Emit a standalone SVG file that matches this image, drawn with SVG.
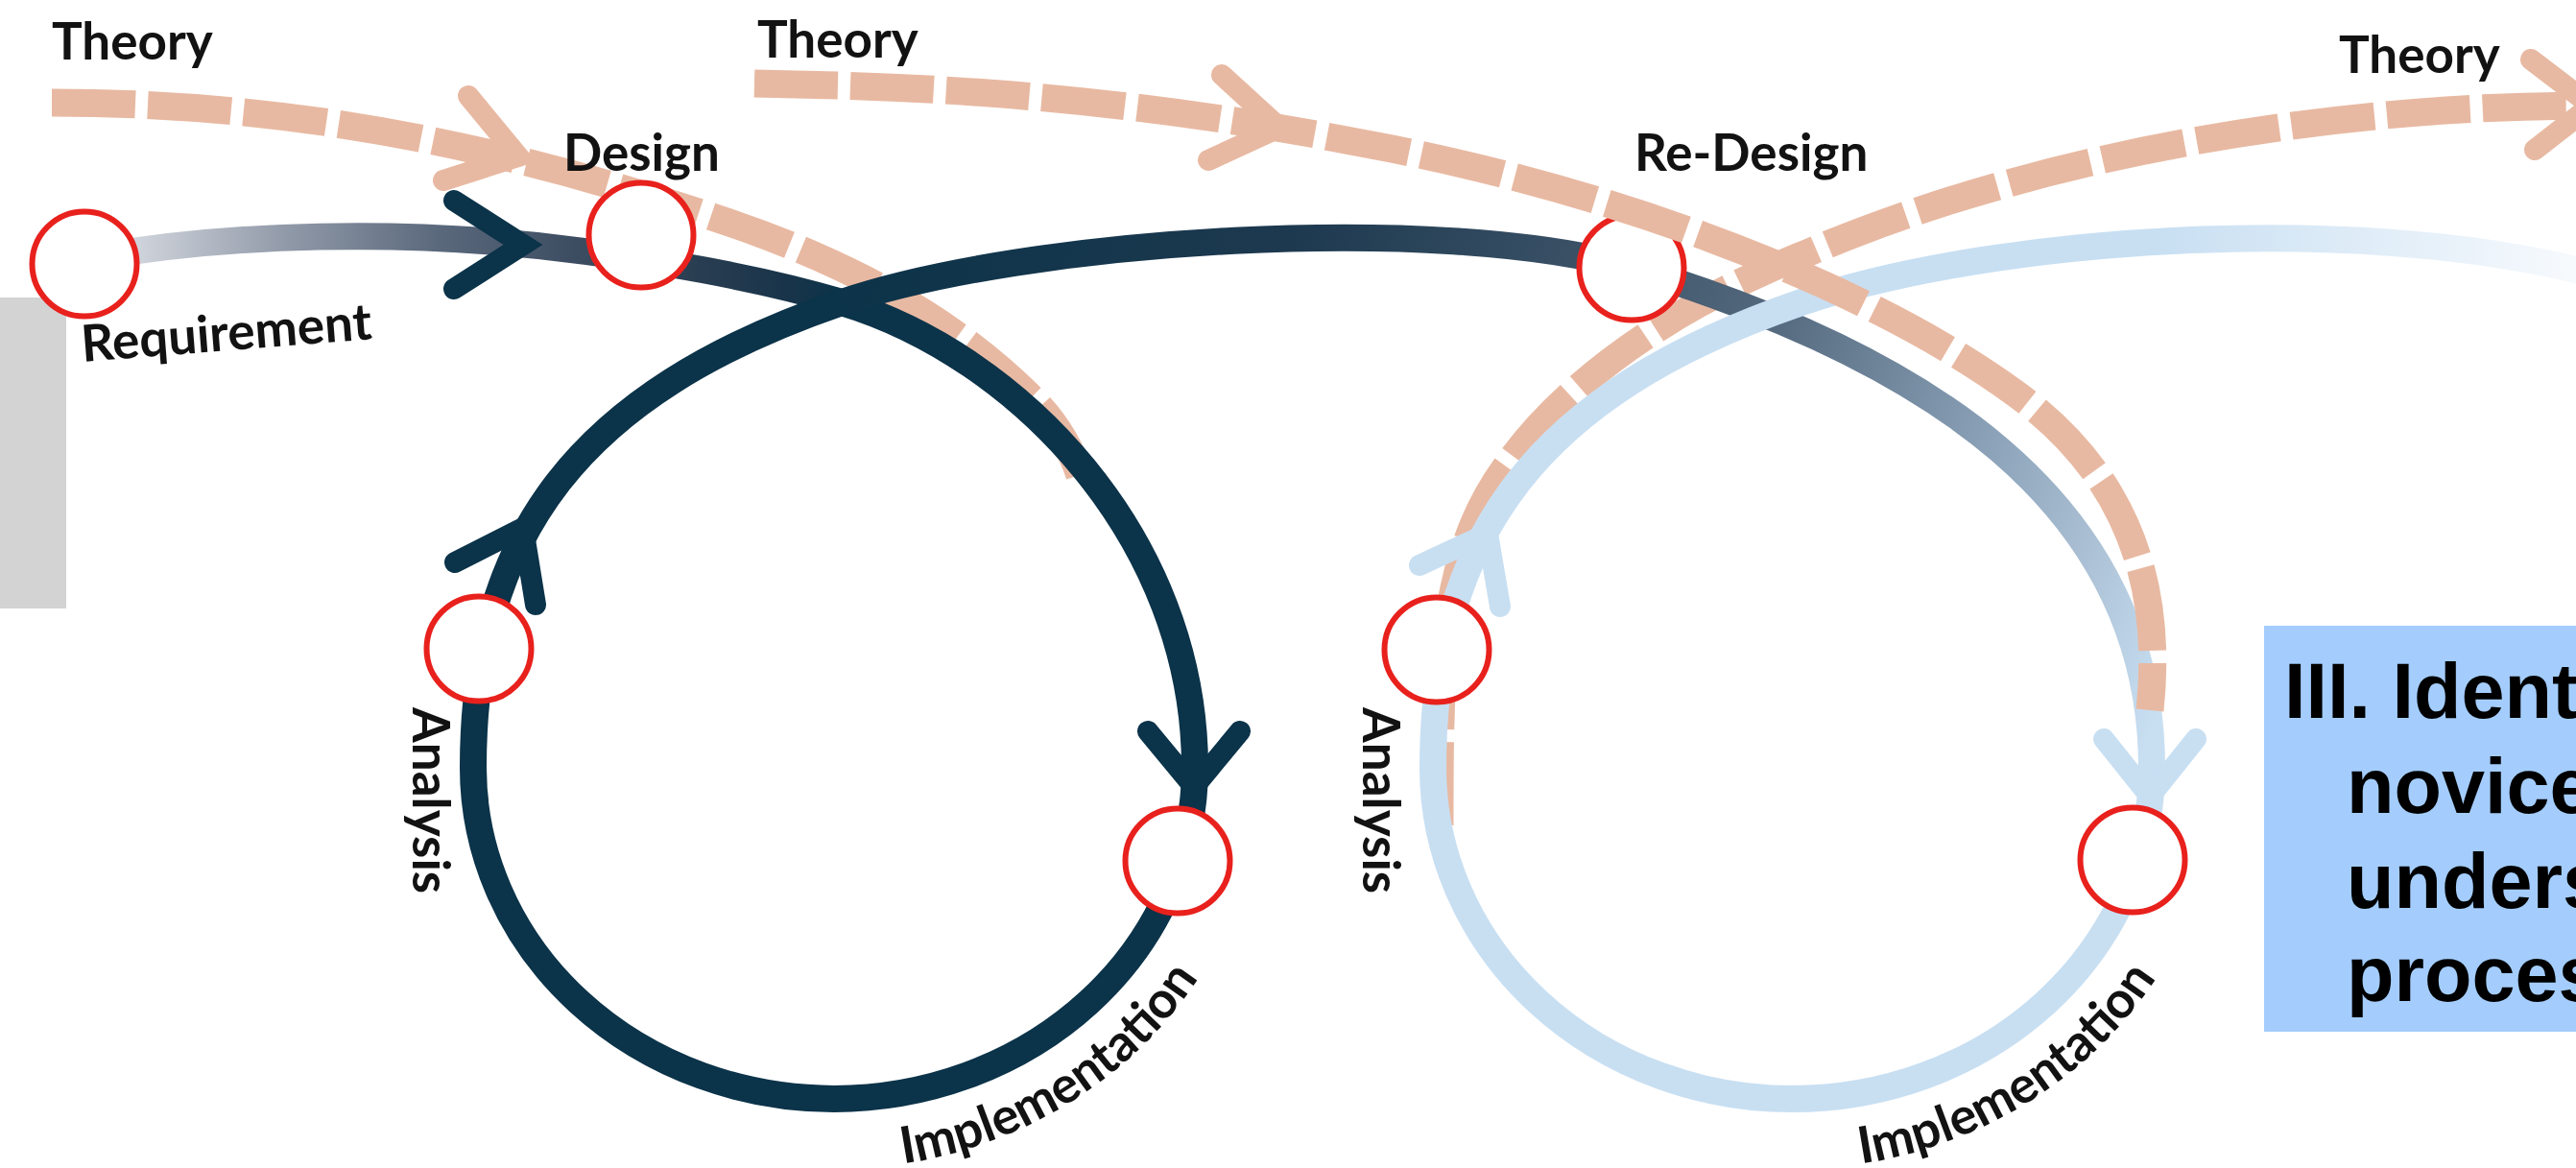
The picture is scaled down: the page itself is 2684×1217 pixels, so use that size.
<svg xmlns="http://www.w3.org/2000/svg" width="2684" height="1217" viewBox="0 0 2684 1217">
  <defs>
    <style>
      .lbl { font-family: Lato, "Open Sans", "DejaVu Sans", sans-serif; font-weight: 700; font-size: 53px; fill: #121212; }
      .node circle { fill: #ffffff; stroke: #e8211d; stroke-width: 6; }
      .theory { fill: none; stroke: #e8b9a2; stroke-width: 29; stroke-dasharray: 87 13; }
      .flow { fill: none; stroke-width: 28; stroke-linecap: butt; }
      .chev { fill: none; stroke-width: 22; stroke-linecap: round; stroke-linejoin: miter; }
      .navy { stroke: #0b3349; }
      .sky { stroke: #c8dff2; }
      .peach { stroke: #e8b9a2; }
      .box-text { font-family: "Liberation Sans", Arial, Helvetica, sans-serif; font-weight: 700; font-size: 81px; fill: #000000; }
    </style>
    <!-- requirement lead-in: pale grey to navy -->
    <linearGradient id="gStart" gradientUnits="userSpaceOnUse" x1="100" y1="0" x2="880" y2="0">
      <stop offset="0" stop-color="#d9dce3"/>
      <stop offset="0.06" stop-color="#ced2da"/>
      <stop offset="0.26" stop-color="#8f98a7"/>
      <stop offset="0.46" stop-color="#5a687c"/>
      <stop offset="0.64" stop-color="#3d4d61"/>
      <stop offset="0.8" stop-color="#2a3e52"/>
      <stop offset="0.92" stop-color="#19344a"/>
      <stop offset="1" stop-color="#0b3349"/>
    </linearGradient>
    <!-- bridge between the loops: navy to light blue -->
    <linearGradient id="gBridge" gradientUnits="userSpaceOnUse" x1="875" y1="250" x2="2242" y2="760">
      <stop offset="0" stop-color="#0b3349"/>
      <stop offset="0.3" stop-color="#1d394f"/>
      <stop offset="0.5" stop-color="#3a5166"/>
      <stop offset="0.64" stop-color="#53687d"/>
      <stop offset="0.83" stop-color="#8ea5bb"/>
      <stop offset="0.91" stop-color="#aabfd3"/>
      <stop offset="1" stop-color="#c8dff2"/>
    </linearGradient>
    <!-- second loop: light blue fading out to the right -->
    <linearGradient id="gFade" gradientUnits="userSpaceOnUse" x1="1400" y1="0" x2="2684" y2="0">
      <stop offset="0" stop-color="#c8dff2"/>
      <stop offset="0.66" stop-color="#c8dff2"/>
      <stop offset="1" stop-color="#f7fafd"/>
    </linearGradient>
    <path id="implArc1" d="M 941 1212.5 A 446 418 0 0 0 1288 943"/>
    <path id="implArc2" d="M 1939 1212.5 A 446 418 0 0 0 2286 943"/>
  </defs>

  <rect x="0" y="0" width="2684" height="1217" fill="#ffffff"/>

  <!-- side panels -->
  <rect id="side-panel" x="0" y="310" width="69" height="324" fill="#d3d3d3"/>
  <g id="note-box">
    <rect x="2359" y="652" width="325" height="423" fill="#a4cdfd"/>
    <text class="box-text" x="2380" y="748">III. Ident</text>
    <text class="box-text" x="2445" y="847">novice</text>
    <text class="box-text" x="2445" y="946">unders</text>
    <text class="box-text" x="2445" y="1043">proces</text>
  </g>

  <g id="connectors">
    <!-- theory streams drawn beneath the process line -->
    <path id="theory-1" class="theory" d="M 54 107 C 300 107, 520 150, 760 232 C 900 280, 1000 340, 1075 415 C 1100 440, 1115 465, 1125 495"/>
    <path id="theory-3" class="theory" d="M 1500 860 C 1500 700, 1500 580, 1570 485 C 1630 400, 1740 320, 1880 265 C 2100 170, 2400 110, 2700 110"/>

    <!-- process line -->
    <path id="flow-start" class="flow" stroke="url(#gStart)" d="M 100 268 C 230 245, 420 236, 610 262 C 700 274, 800 292, 877 315"/>
    <path id="flow-loop1" class="flow navy" d="M 877 315 C 1060 370, 1245 560, 1245 800 A 376 345 0 0 1 493 800 C 493 560, 600 410, 877 315"/>
    <path id="flow-bridge" class="flow" stroke="url(#gBridge)" d="M 875 315.7 C 1071 248.5, 1500 222, 1700 279 C 2000 370, 2242 520, 2242 800"/>
    <path id="flow-loop2" class="flow" stroke="url(#gFade)" d="M 2242 800 A 374.5 345 0 0 1 1493 800 C 1493 560, 1600 410, 1877 315 C 2071 248.5, 2450 220, 2700 285"/>

    <!-- arrowheads on the process line -->
    <polyline class="chev navy" points="473,209 545,255 473,301"/>
    <polyline class="chev navy" points="1196,762 1244,820 1292,762"/>
    <polyline class="chev navy" points="474,586 545,550 558,630"/>
    <polyline class="chev sky" points="2192,770 2240,830 2288,770"/>
    <polyline class="chev sky" points="1479,589 1550,556 1563,632"/>

    <!-- theory arrowheads -->
    <polyline class="chev peach" points="488,100 540,163 462,188"/>
    <polyline class="chev peach" points="2637,62 2700,110 2641,156"/>
  </g>

  <g id="node-requirement" class="node">
    <circle cx="88" cy="275" r="54.5"/>
    <text class="lbl" transform="translate(86,377) rotate(-4.5)">Requirement</text>
  </g>
  <g id="node-design" class="node">
    <circle cx="668" cy="245" r="54.5"/>
    <text class="lbl" x="587" y="178">Design</text>
  </g>
  <g id="node-analysis-1" class="node">
    <circle cx="499" cy="676" r="54.5"/>
    <text class="lbl" transform="translate(430,737) rotate(90)">Analysis</text>
  </g>
  <g id="node-implementation-1" class="node">
    <circle cx="1227" cy="897" r="54.5"/>
    <text class="lbl"><textPath href="#implArc1">Implementation</textPath></text>
  </g>
  <g id="node-redesign" class="node">
    <circle cx="1700" cy="279" r="54.5"/>
    <text class="lbl" x="1703" y="178">Re-Design</text>
  </g>
  <g id="node-analysis-2" class="node">
    <circle cx="1497" cy="677" r="54.5"/>
    <text class="lbl" transform="translate(1420,737) rotate(90)">Analysis</text>
  </g>
  <g id="node-implementation-2" class="node">
    <circle cx="2222" cy="896" r="54.5"/>
    <text class="lbl"><textPath href="#implArc2">Implementation</textPath></text>
  </g>

  <!-- second theory stream passes over the re-design marker -->
  <g id="theory-overlay">
    <path id="theory-2" class="theory" d="M 786 87 C 1000 90, 1200 105, 1450 155 C 1700 205, 1950 300, 2100 410 C 2210 490, 2255 600, 2240 740"/>
    <polyline class="chev peach" points="1273,78 1333,133 1259,167"/>
  </g>

  <g id="theory-labels">
    <text class="lbl" x="54" y="62">Theory</text>
    <text class="lbl" x="789" y="60">Theory</text>
    <text class="lbl" x="2437" y="76">Theory</text>
  </g>
</svg>
